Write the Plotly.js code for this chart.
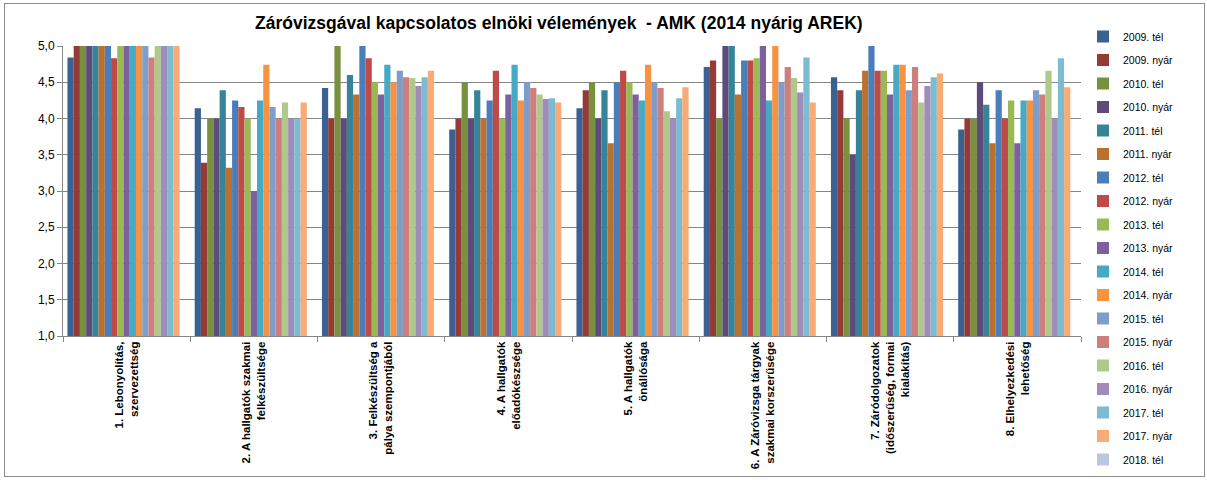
<!DOCTYPE html>
<html>
<head>
<meta charset="utf-8">
<script src="https://cdn.plot.ly/plotly-3.0.1.min.js"></script>
<style>
  html, body { margin: 0; padding: 0; background: #fff; }
  #chart { width: 1207px; height: 480px; }
  #frame { position: absolute; left: 4px; top: 3px; width: 1201px; height: 474px; border: 1px solid #8c8c8c; pointer-events: none; box-sizing: border-box; }
</style>
</head>
<body>
<div id="chart"></div>
<div id="frame"></div>
<script>
// Categories (x axis)
const categories = [
  "1. Lebonyolítás,<br>szervezettség",
  "2. A hallgatók szakmai<br>felkészültsége",
  "3. Felkészültség a<br>pálya szempontjából",
  "4. A hallgatók<br>előadókészsége",
  "5. A hallgatók<br>önállósága",
  "6. A Záróvizsga tárgyak<br>szakmai korszerűsége",
  "7. Záródolgozatok<br>(időszerűség, formai<br>kialakítás)",
  "8. Elhelyezkedési<br>lehetőség"
];

// Series names (legend)
const seriesNames = [
  "2009. tél", "2009. nyár", "2010. tél", "2010. nyár", "2011. tél", "2011. nyár",
  "2012. tél", "2012. nyár", "2013. tél", "2013. nyár", "2014. tél", "2014. nyár",
  "2015. tél", "2015. nyár", "2016. tél", "2016. nyár", "2017. tél", "2017. nyár",
  "2018. tél"
];

// Values per category, one value per series (same order as seriesNames)
const cat1 = [4.84, 5, 5, 5, 5, 5, 5, 4.83, 5, 5, 5, 5, 5, 4.84, 5, 5, 5, 5, null];
const cat2 = [4.14, 3.39, 4, 4, 4.39, 3.32, 4.25, 4.16, 4, 3, 4.25, 4.74, 4.16, 4, 4.22, 4, 4, 4.22, null];
const cat3 = [4.42, 4, 5, 4, 4.6, 4.33, 5, 4.83, 4.5, 4.33, 4.74, 4.5, 4.66, 4.57, 4.56, 4.45, 4.57, 4.66, null];
const cat4 = [3.85, 4, 4.5, 4, 4.39, 4, 4.25, 4.66, 4, 4.33, 4.74, 4.25, 4.5, 4.42, 4.33, 4.27, 4.28, 4.22, null];
const cat5 = [4.14, 4.39, 4.5, 4, 4.39, 3.66, 4.5, 4.66, 4.5, 4.33, 4.25, 4.74, 4.5, 4.42, 4.1, 4, 4.28, 4.43, null];
const cat6 = [4.71, 4.8, 4, 5, 5, 4.33, 4.8, 4.8, 4.83, 5, 4.25, 5, 4.5, 4.71, 4.56, 4.36, 4.84, 4.22, null];
const cat7 = [4.57, 4.39, 4, 3.5, 4.39, 4.66, 5, 4.66, 4.66, 4.33, 4.74, 4.74, 4.39, 4.71, 4.22, 4.45, 4.57, 4.62, null];
const cat8 = [3.85, 4, 4, 4.5, 4.19, 3.66, 4.39, 4, 4.25, 3.66, 4.25, 4.25, 4.39, 4.33, 4.66, 4, 4.83, 4.43, null];
const byCategory = [cat1, cat2, cat3, cat4, cat5, cat6, cat7, cat8];

// Y axis ticks
const yTickVals = [1, 1.5, 2, 2.5, 3, 3.5, 4, 4.5, 5];

// Series colours
const colors = [
  "#3B6192", "#943B38", "#77913F", "#5F4A7C", "#378397", "#BA7130",
  "#4A7EBB", "#BE4B48", "#98B954", "#7D60A0", "#46AAC5", "#F69240",
  "#7F9DCB", "#CE7E7D", "#B0C98B", "#A08CB9", "#7DBBD2", "#F9AB75",
  "#B9C7E0"
];

const traces = seriesNames.map((name, i) => ({
  type: "bar",
  name: name,
  legendgroup: name,
  x: categories,
  y: byCategory.map(c => c[i]),
  marker: { color: colors[i], line: { width: 0 } },
  hoverinfo: "name+y"
}));

const layout = {
  width: 1207,
  height: 480,
  paper_bgcolor: "#ffffff",
  plot_bgcolor: "#ffffff",
  separators: ", ",
  margin: { l: 63, r: 126, t: 46, b: 144 },
  title: {
    text: "<b>Záróvizsgával kapcsolatos elnöki vélemények  - AMK (2014 nyárig AREK)</b>",
    font: { family: "Liberation Sans, Arial, sans-serif", size: 17.5, color: "#000" },
    x: 0.463, xanchor: "center", xref: "container",
    y: 0.953, yanchor: "middle", yref: "container"
  },
  barmode: "group",
  bargap: 0.07,
  bargroupgap: 0,
  showlegend: true,
  legend: {
    xref: "container", yref: "container",
    x: 1083 / 1207, xanchor: "left",
    y: 1 - 22 / 480, yanchor: "top",
    maxheight: 470,
    font: { family: "Liberation Sans, Arial, sans-serif", size: 10.5, color: "#000" },
    tracegroupgap: 4.5,
    traceorder: "grouped",
    bgcolor: "rgba(0,0,0,0)"
  },
  xaxis: {
    type: "category",
    tickangle: -90,
    tickfont: { family: "Liberation Sans, Arial, sans-serif", size: 11.5, color: "#000", weight: "bold" },
    showline: true, linecolor: "#868686", linewidth: 1,
    ticks: "outside", tickson: "boundaries", ticklen: 5, tickcolor: "#868686",
    showgrid: false,
    fixedrange: true
  },
  yaxis: {
    range: [1, 5],
    tickvals: yTickVals,
    tickformat: ".1f",
    tickfont: { family: "Liberation Sans, Arial, sans-serif", size: 12, color: "#000" },
    showline: true, linecolor: "#868686", linewidth: 1,
    ticks: "outside", ticklen: 5, tickcolor: "#868686",
    showgrid: true, gridcolor: "#868686", gridwidth: 1,
    zeroline: false,
    fixedrange: true
  }
};

Plotly.newPlot("chart", traces, layout, { displayModeBar: false, staticPlot: true });
</script>
</body>
</html>
